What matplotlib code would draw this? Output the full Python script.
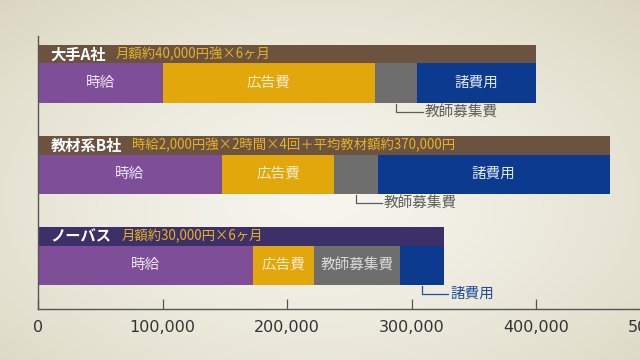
import numpy as np
import matplotlib
matplotlib.use('Agg')
import matplotlib.pyplot as plt
from matplotlib.ticker import FuncFormatter

plt.rcParams['font.family'] = ['Noto Sans CJK JP', 'DejaVu Sans']

# data
companies = ['大手A社', '教材系B社', 'ノーバス']
notes = ['月額約40,000円強×6ヶ月',
         '時給2,000円強×2時間×4回＋平均教材額約370,000円',
         '月額約30,000円×6ヶ月']
seg_names = ['時給', '広告費', '教師募集費', '諸費用']
wage = [100000, 147500, 172700]
ad = [171000, 90500, 49300]
recruit = [33700, 34800, 69000]
misc = [95300, 186600, 35100]
outside_label = [2, 2, 3]   # which segment is labelled below the bar
xticks = [0, 100000, 200000, 300000, 400000, 500000]

seg_colors = ['#7e4e98', '#e2a70a', '#6e6e6e', '#0b3a8e']
seg_text = ['#eee4f4', '#f6ecd0', '#dcdcdc', '#dfe6f4']
header_colors = ['#6b5340', '#6b5340', '#3d3068']
leader_colors = ['#5c5c5c', '#5c5c5c', '#1d4f9f']

fig = plt.figure(figsize=(6.4, 3.6), dpi=100)

# soft vignette background
bg = fig.add_axes([0, 0, 1, 1])
yy, xx = np.mgrid[0:1:180j, 0:1:320j]
r = np.sqrt(((xx - 0.5) / 0.75) ** 2 + ((yy - 0.55) / 0.8) ** 2)
light = np.array([0.965, 0.960, 0.930])
dark = np.array([0.850, 0.835, 0.745])
t = np.clip(r, 0, 1)[..., None] ** 1.4
bg.imshow(light * (1 - t) + dark * t, aspect='auto', extent=[0, 1, 0, 1])
bg.set_axis_off()

# axis runs past the right edge, like the original (500,000 is cut off)
ax = fig.add_axes([38 / 640, 1 - 309 / 360, 672 / 640, 273 / 360])
ax.patch.set_alpha(0)

rows = np.arange(len(companies))
bar_h = 0.43
head_h = 0.20
segs = [wage, ad, recruit, misc]
totals = np.sum(segs, axis=0)

left = np.zeros(len(companies))
for k, vals in enumerate(segs):
    ax.barh(rows, vals, left=left, height=bar_h, color=seg_colors[k],
            edgecolor='none')
    for i in rows:
        cx = left[i] + vals[i] / 2
        if outside_label[i] == k:
            y0 = i + bar_h / 2
            y1 = y0 + 0.10
            ax.plot([cx, cx, cx + 21000], [y0 + 0.01, y1, y1],
                    color=leader_colors[i], lw=0.9, clip_on=False)
            ax.text(cx + 22500, y1, seg_names[k], va='center', ha='left',
                    fontsize=10.5, color=leader_colors[i])
        else:
            ax.text(cx, i, seg_names[k], va='center', ha='center',
                    fontsize=10.5, color=seg_text[k])
    left += np.array(vals)

# header strips
ax.barh(rows - bar_h / 2 - head_h / 2, totals, height=head_h,
        color=header_colors, edgecolor='none')
for i in rows:
    yh = i - bar_h / 2 - head_h / 2
    name = ax.text(10000, yh, companies[i], va='center', ha='left',
                   fontsize=11, color='white', fontweight='bold')
    ax.annotate(notes[i], xy=(1, 0.5), xycoords=name, xytext=(7, 0),
                textcoords='offset points', va='center', ha='left',
                fontsize=9.6, color='#e6b422')

ax.set_xticks(xticks)
ax.set_xlim(0, 672 / 124.5 * 100000)
ax.set_ylim(2.48, -0.516)
ax.xaxis.set_major_formatter(FuncFormatter(lambda v, p: f'{int(v):,}'))
ax.tick_params(axis='x', direction='in', length=7, width=0.9,
               color='#555555', labelsize=11.5, labelcolor='#333333', pad=8)
for lab in ax.get_xticklabels():
    lab.set_family('DejaVu Sans')
ax.set_yticks([])
for s in ['top', 'right']:
    ax.spines[s].set_visible(False)
for s in ['left', 'bottom']:
    ax.spines[s].set_color('#555555')
    ax.spines[s].set_linewidth(1.0)

fig.savefig('out.png', dpi=100)
